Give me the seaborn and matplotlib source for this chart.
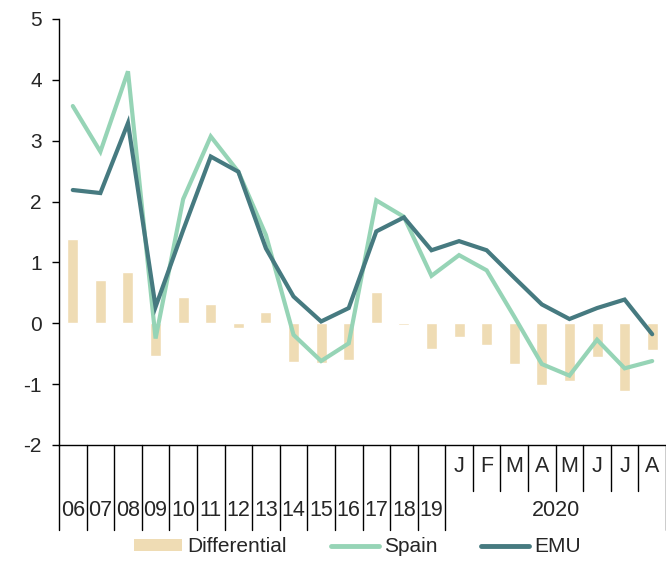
import matplotlib
matplotlib.use("Agg")
import matplotlib.pyplot as plt
import matplotlib.transforms as mtransforms
from matplotlib.patches import Patch
from matplotlib.lines import Line2D
import seaborn as sns
import pandas as pd
import numpy as np

# ---- data ----
years = ["06", "07", "08", "09", "10", "11", "12", "13", "14", "15", "16", "17", "18", "19"]
months = ["J", "F", "M", "A", "M", "J", "J", "A"]
month_year = "2020"
spain = [3.57, 2.82, 4.14, -0.25, 2.04, 3.07, 2.49, 1.45, -0.19, -0.62, -0.33, 2.02, 1.75, 0.78,
         1.12, 0.87, 0.11, -0.67, -0.86, -0.27, -0.74, -0.62]
emu = [2.19, 2.14, 3.29, 0.27, 1.53, 2.74, 2.49, 1.23, 0.44, 0.03, 0.25, 1.51, 1.74, 1.20,
       1.35, 1.20, 0.75, 0.31, 0.07, 0.25, 0.39, -0.18]
differential = [1.39, 0.71, 0.85, -0.53, 0.44, 0.32, -0.08, 0.18, -0.64, -0.66, -0.61, 0.51, -0.02, -0.42,
                -0.22, -0.36, -0.67, -1.01, -0.95, -0.56, -1.11, -0.44]
yticks = [-2, -1, 0, 1, 2, 3, 4, 5]

categories = [f"y{y}" for y in years] + [f"m{i}_{m}" for i, m in enumerate(months)]
n = len(categories)
df = pd.DataFrame({"cat": categories, "pos": np.arange(n), "Differential": differential,
                   "Spain": spain, "EMU": emu})

C_BAR = "#EFDCB4"
C_SPAIN = "#96D4B6"
C_EMU = "#467A80"

sns.set_style("white")
plt.rcParams["font.family"] = ["Liberation Sans", "DejaVu Sans"]

fig = plt.figure(figsize=(6.66, 5.63), dpi=100)
ax = fig.add_axes([59 / 666, 1 - 445 / 563, 1 - 59 / 666, (445 - 19) / 563])

sns.barplot(data=df, x="cat", y="Differential", order=categories, color=C_BAR,
            width=0.4, ax=ax, saturation=1, zorder=1)
sns.lineplot(x=df["pos"], y=df["Spain"], ax=ax, color=C_SPAIN, lw=3.0, zorder=3,
             solid_joinstyle="miter")
sns.lineplot(x=df["pos"], y=df["EMU"], ax=ax, color=C_EMU, lw=3.0, zorder=4,
             solid_joinstyle="miter")

ax.set_xlim(-0.5, n - 0.5)
ax.set_ylim(-2, 5)
ax.set_yticks(yticks)
ax.set_yticklabels([str(v) for v in yticks], fontsize=15)
ax.tick_params(axis="y", direction="out", length=5, width=1, color="black", pad=7.5, left=True)
ax.set_xticks([])
ax.set_xlabel("")
ax.set_ylabel("")
for s in ["top", "right"]:
    ax.spines[s].set_visible(False)
ax.spines["left"].set_color("black")
ax.spines["bottom"].set_color("black")
ax.spines["left"].set_linewidth(1)
ax.spines["bottom"].set_linewidth(1)

# two-level category axis
trans = mtransforms.blended_transform_factory(ax.transData, ax.transAxes)
full_bottom = -(530 - 445) / 426
half_bottom = -(491 - 445) / 426
ny = len(years)
for b in range(n + 1):
    xb = b - 0.5
    if b <= ny or b == n:
        yb = full_bottom
    else:
        yb = half_bottom
    ax.plot([xb, xb], [0, yb], transform=trans, color="black", lw=1, clip_on=False)

lab_fs = 15.5
for i, y in enumerate(years):
    ax.text(i, -(511 - 445) / 426, y, transform=trans, ha="center", va="center",
            fontsize=lab_fs)
for j, m in enumerate(months):
    ax.text(ny + j, -(467 - 445) / 426, m, transform=trans, ha="center", va="center",
            fontsize=lab_fs)
ax.text(ny + (len(months) - 1) / 2, -(511 - 445) / 426, month_year, transform=trans,
        ha="center", va="center", fontsize=lab_fs)

handles = [Patch(facecolor=C_BAR, edgecolor="none", label="Differential"),
           Line2D([], [], color=C_SPAIN, lw=3.5, label="Spain", solid_capstyle="round"),
           Line2D([], [], color=C_EMU, lw=3.5, label="EMU", solid_capstyle="round")]
fig.legend(handles=handles, loc="center", bbox_to_anchor=(0.537, 1 - 547 / 563), ncol=3,
           frameon=False, fontsize=15, handlelength=2.3, handleheight=0.5,
           handletextpad=0.25, columnspacing=2.1)

fig.savefig("out.png", dpi=100)
